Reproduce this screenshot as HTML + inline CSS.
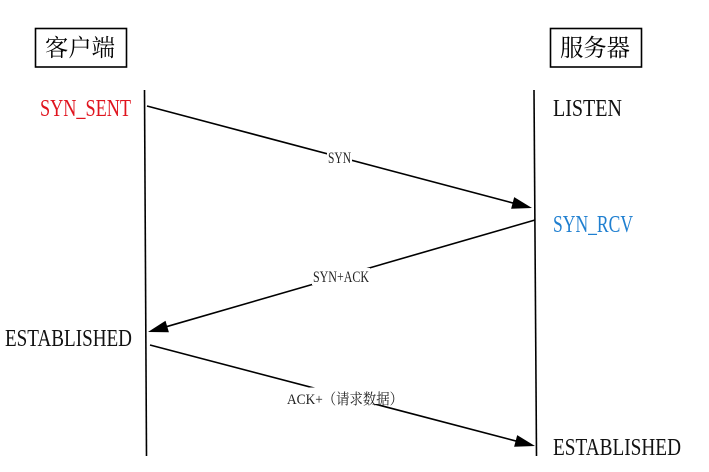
<!DOCTYPE html>
<html><head><meta charset="utf-8"><style>
html,body{margin:0;padding:0;background:#fff;}
svg{display:block;}
</style></head><body>
<svg width="709" height="472" viewBox="0 0 709 472" xmlns="http://www.w3.org/2000/svg">
<rect x="0" y="0" width="709" height="472" fill="#fff"/>
<!-- header boxes -->
<rect x="35.5" y="28.5" width="91" height="38.5" fill="none" stroke="#000" stroke-width="1.6"/>
<text x="45" y="56" font-family="'Noto Serif CJK SC','Noto Sans CJK SC',serif" font-size="24" fill="#000" textLength="70" lengthAdjust="spacingAndGlyphs">客户端</text>
<rect x="550.5" y="28.5" width="91" height="38.5" fill="none" stroke="#000" stroke-width="1.6"/>
<text x="560" y="56" font-family="'Noto Serif CJK SC','Noto Sans CJK SC',serif" font-size="24" fill="#000" textLength="70" lengthAdjust="spacingAndGlyphs">服务器</text>
<!-- lifelines -->
<line x1="144.5" y1="90" x2="146.5" y2="456" stroke="#000" stroke-width="1.6"/>
<line x1="534" y1="90" x2="536.5" y2="456" stroke="#000" stroke-width="1.6"/>
<!-- state labels -->
<g font-family="'Liberation Serif',serif" font-size="24">
<text x="40" y="116" fill="#e0141e" textLength="91" lengthAdjust="spacingAndGlyphs">SYN_SENT</text>
<text x="553" y="116" fill="#111" textLength="69" lengthAdjust="spacingAndGlyphs">LISTEN</text>
<text x="553" y="232" fill="#1f7fd0" textLength="80" lengthAdjust="spacingAndGlyphs">SYN_RCV</text>
<text x="5" y="346" fill="#111" textLength="127" lengthAdjust="spacingAndGlyphs">ESTABLISHED</text>
<text x="553" y="455" fill="#111" textLength="128" lengthAdjust="spacingAndGlyphs">ESTABLISHED</text>
</g>
<!-- arrows -->
<line x1="147" y1="106" x2="514" y2="203.3" stroke="#000" stroke-width="1.6"/>
<polygon points="532,208 511.1,208.7 514.2,197.1" fill="#000"/>
<line x1="535" y1="220" x2="166" y2="326.8" stroke="#000" stroke-width="1.6"/>
<polygon points="148,332 165.5,320.7 168.9,332.2" fill="#000"/>
<line x1="150" y1="345" x2="517" y2="441.3" stroke="#000" stroke-width="1.6"/>
<polygon points="535,446 514.1,446.7 517.2,435.1" fill="#000"/>
<!-- arrow labels -->
<rect x="327" y="150" width="25" height="16" fill="#fff"/>
<text x="328" y="163" font-family="'Liberation Serif',serif" font-size="16" fill="#222" textLength="23" lengthAdjust="spacingAndGlyphs">SYN</text>
<rect x="312" y="268" width="58" height="17" fill="#fff"/>
<text x="313" y="282" font-family="'Liberation Serif',serif" font-size="16" fill="#222" textLength="56" lengthAdjust="spacingAndGlyphs">SYN+ACK</text>
<rect x="286" y="387.5" width="118" height="16.5" fill="#fff"/>
<text x="287" y="404" font-family="'Liberation Serif','Noto Serif CJK SC',serif" font-size="15" fill="#222" textLength="116" lengthAdjust="spacingAndGlyphs">ACK+（请求数据）</text>
</svg>
</body></html>
